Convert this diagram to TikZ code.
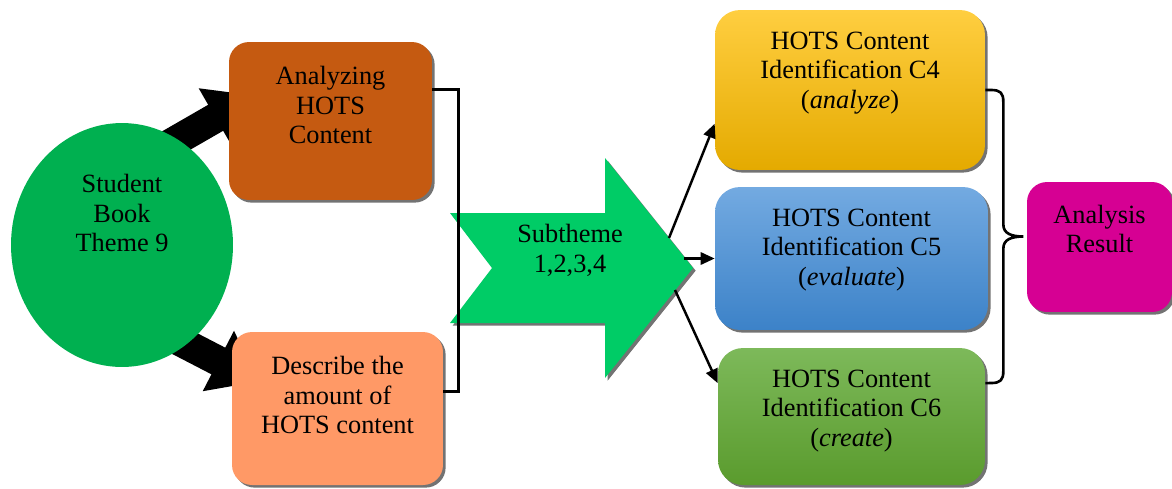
\documentclass[tikz,border=0pt]{standalone}
\usepackage{fontspec}
\setmainfont{Liberation Serif}
\usepackage{xcolor}
\usepackage{tikz}
\usetikzlibrary{shapes,arrows.meta,backgrounds,shadows}

\definecolor{bookgreen}{RGB}{0,176,80}
\definecolor{subgreen}{RGB}{0,204,102}
\definecolor{anaorange}{RGB}{197,90,17}
\definecolor{descorange}{RGB}{255,153,102}
\definecolor{resmagenta}{RGB}{214,0,147}
\definecolor{yeltop}{RGB}{255,206,64}
\definecolor{yelbot}{RGB}{228,170,0}
\definecolor{blutop}{RGB}{115,170,225}
\definecolor{blubot}{RGB}{60,130,200}
\definecolor{grntop}{RGB}{125,185,90}
\definecolor{grnbot}{RGB}{90,155,45}

\begin{document}
\begin{tikzpicture}[
    x=0.02cm, y=-0.02cm,
    txt/.style={align=center, inner sep=0pt, font=\fontsize{15pt}{17pt}\selectfont},
    stage/.style={rectangle, rounded corners=0.4cm, drop shadow={shadow xshift=1.5pt, shadow yshift=-1.5pt, fill=black!55, opacity=1}},
    bigarrow/.style={line width=0.6cm, shorten <=-0.4cm, shorten >=-0.6cm, -{Triangle[length=0.9cm, width=1.3cm]}},
    arrow/.style={-{Triangle[length=8pt, width=7pt]}, line width=1.4pt},
    link/.style={line width=1.7pt}
    ]
    \useasboundingbox (0,0) rectangle (1172,488);

    % Source
    \node[ellipse, fill=bookgreen, minimum width=4.44cm, minimum height=4.88cm] (book) at (122,245) {};
    \node[txt] (bookT) at (122,213) {Student\\Book\\Theme 9};

    % Two tasks
    \node[stage, fill=anaorange, minimum width=4.06cm, minimum height=3.16cm] (ana) at (330.5,121) {};
    \node[txt] (anaT) at (330.5,105) {Analyzing\\HOTS\\Content};
    \node[stage, fill=descorange, minimum width=4.22cm, minimum height=3.06cm] (desc) at (337.5,408.5) {};
    \node[txt] (descT) at (337.5,395) {Describe the\\amount of\\HOTS content};

    % Thick arrows behind the shapes
    \begin{pgfonlayer}{background}
    \draw[bigarrow] (book.62) -- (ana.174);
    \draw[bigarrow] (book.-57) -- (desc.159);
    \end{pgfonlayer}

    % Subtheme arrow
    \fill[subgreen, drop shadow={shadow xshift=1.5pt, shadow yshift=-1.5pt, fill=black!55, opacity=1}]
        (450,213) -- (605,213) -- (605,158) -- (693,268) -- (605,378) -- (605,323) -- (450,323) -- (492,268) -- cycle;
    \node[txt] (sub) at (570,250) {Subtheme\\1,2,3,4};
    \coordinate (hd1) at (669,238);
    \coordinate (hd2) at (684,258.5);
    \coordinate (hd3) at (675,290);

    % Joining line
    \coordinate (brk) at (458,0);
    \draw[link] (ana.17) -| (brk |- desc.9) -- (desc.9);

    % Identification boxes
    \node[stage, rounded corners=0.5cm, top color=yeltop, bottom color=yelbot, minimum width=5.4cm, minimum height=3.2cm] (yel) at (850,90) {};
    \node[txt] (yelT) at (850,73) {HOTS Content\\Identification C4\\(\textit{analyze})};
    \node[stage, rounded corners=0.5cm, top color=blutop, bottom color=blubot, minimum width=5.46cm, minimum height=2.86cm] (blu) at (851.5,258.5) {};
    \node[txt] (bluT) at (851.5,250) {HOTS Content\\Identification C5\\(\textit{evaluate})};
    \node[stage, rounded corners=0.5cm, top color=grntop, bottom color=grnbot, minimum width=5.34cm, minimum height=2.74cm] (grn) at (851.5,416.5) {};
    \node[txt] (grnT) at (851.5,411) {HOTS Content\\Identification C6\\(\textit{create})};

    \draw[arrow] (hd1) -- (yel.194);
    \draw[arrow] (hd2) -- (blu.west);
    \draw[arrow] (hd3) -- (grn.166);

    % Result
    \draw[link, line width=1.5pt] (yel.east) -- ++(6,0) .. controls +(9,0) and +(0,-9) .. ++(12,12)
        -- ++(0,122.5) .. controls +(0,9) and +(-12,0) .. ++(20,12)
        .. controls +(-12,0) and +(0,-9) .. ++(-20,12)
        -- ++(0,122.5) .. controls +(0,9) and +(9,0) .. ++(-12,12) -- (grn.14);
    \node[stage, fill=resmagenta, minimum width=2.9cm, minimum height=2.6cm] (res) at (1099.5,247) {};
    \node[txt] (resT) at (1099.5,229) {Analysis\\Result};

\end{tikzpicture}
\end{document}
